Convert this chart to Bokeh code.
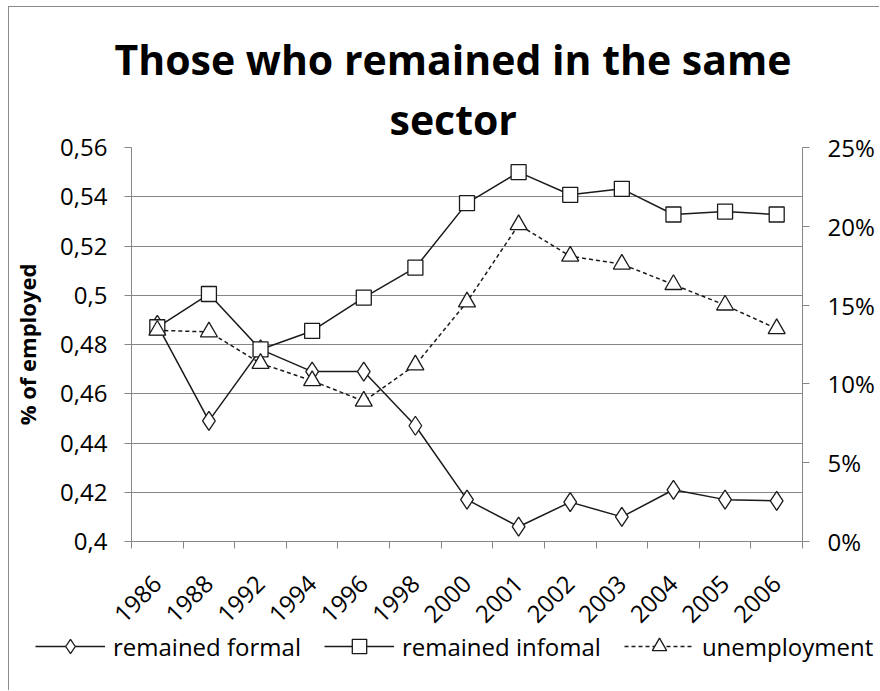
from math import pi
from bokeh.plotting import figure
from bokeh.models import (Range1d, LinearAxis, FixedTicker, Legend,
                          LegendItem, Title, Grid, LinearScale)
from bokeh.embed import file_html
from bokeh.resources import INLINE

# ---------------- data ----------------
years = ["1986", "1988", "1992", "1994", "1996", "1998", "2000",
         "2001", "2002", "2003", "2004", "2005", "2006"]
remained_formal = [0.488, 0.449, 0.478, 0.469, 0.469, 0.447, 0.417,
                   0.406, 0.416, 0.410, 0.421, 0.417, 0.4165]
remained_informal = [0.487, 0.5005, 0.478, 0.4855, 0.499, 0.5112, 0.5374,
                     0.550, 0.5408, 0.5432, 0.5328, 0.534, 0.5328]
unemployment = [0.134, 0.133, 0.113, 0.102, 0.089, 0.112, 0.152,
                0.201, 0.181, 0.176, 0.163, 0.150, 0.135]

left_ticks = [0.40, 0.42, 0.44, 0.46, 0.48, 0.50, 0.52, 0.54, 0.56]
left_tick_labels = ["0,4", "0,42", "0,44", "0,46", "0,48", "0,5", "0,52", "0,54", "0,56"]
right_ticks = [0.0, 0.05, 0.10, 0.15, 0.20, 0.25]
right_tick_labels = ["0%", "5%", "10%", "15%", "20%", "25%"]
series_names = ["remained formal", "remained infomal", "unemployment"]
title_lines = ["Those who remained in the same", "sector"]
y_label = "% of employed"

# category slots (one per year) on a linear scale
slots = list(range(len(years)))
slot_edges = [i - 0.5 for i in range(len(years) + 1)]

# ---------------- style ----------------
FONT = "Open Sans"
GRAY = "#868686"
INK = "#1a1a1a"

p = figure(x_range=Range1d(slot_edges[0], slot_edges[-1]),
           y_range=Range1d(left_ticks[0], left_ticks[-1]),
           width=871, height=627, output_backend="svg", toolbar_location=None,
           x_axis_location=None, y_axis_location=None,
           min_border_left=121, min_border_right=78,
           min_border_top=140, min_border_bottom=93)
p.outline_line_color = None
p.background_fill_color = "white"
p.border_fill_color = "white"
p.styles = {"margin-left": "8px", "margin-top": "6px",
            "border-left": "1px solid #8a8a8a", "border-top": "1px solid #8a8a8a"}
for g in p.grid:
    g.visible = False

p.extra_y_ranges = {"pct": Range1d(right_ticks[0], right_ticks[-1])}
p.extra_y_scales = {"pct": LinearScale()}

# horizontal grid
p.add_layout(Grid(dimension=1, ticker=FixedTicker(ticks=left_ticks),
                  grid_line_color=GRAY, grid_line_width=1.2))

# left axis
ax_l = LinearAxis(ticker=FixedTicker(ticks=left_ticks),
                  major_label_overrides=dict(zip(left_ticks, left_tick_labels)),
                  axis_label=y_label, axis_label_text_font=FONT,
                  axis_label_text_font_style="bold", axis_label_text_font_size="22px",
                  axis_label_text_color="black", axis_label_standoff=15,
                  major_label_text_font=FONT, major_label_text_font_size="24px",
                  major_label_text_color="black", major_label_standoff=17,
                  axis_line_color=GRAY, major_tick_line_color=GRAY,
                  major_tick_out=7, major_tick_in=0, minor_tick_line_color=None)
p.add_layout(ax_l, "left")

# right axis
ax_r = LinearAxis(y_range_name="pct", ticker=FixedTicker(ticks=right_ticks),
                  major_label_overrides=dict(zip(right_ticks, right_tick_labels)),
                  major_label_text_font=FONT, major_label_text_font_size="24px",
                  major_label_text_color="black", major_label_standoff=18,
                  axis_line_color=GRAY, major_tick_line_color=GRAY,
                  major_tick_out=7, major_tick_in=0, minor_tick_line_color=None)
p.add_layout(ax_r, "right")

# bottom axis: labels at category centres, ticks at category boundaries
ax_b = LinearAxis(ticker=FixedTicker(ticks=slots, minor_ticks=slot_edges),
                  major_label_overrides=dict(zip(slots, years)),
                  major_tick_line_color=None, major_tick_in=0,
                  minor_tick_line_color=GRAY, minor_tick_out=7, minor_tick_in=0,
                  axis_line_color=GRAY,
                  major_label_orientation=pi / 4, major_label_standoff=31,
                  major_label_text_font=FONT, major_label_text_font_size="24px",
                  major_label_text_color="black")
p.add_layout(ax_b, "below")

# series
p.line(slots, remained_formal, line_color=INK, line_width=1.5)
p.scatter(slots, remained_formal, marker="diamond", size=19,
          fill_color="white", line_color=INK, line_width=1.3)
p.line(slots, remained_informal, line_color=INK, line_width=1.5)
p.scatter(slots, remained_informal, marker="square", size=15,
          fill_color="white", line_color=INK, line_width=1.3)
p.line(slots, unemployment, y_range_name="pct", line_color=INK,
       line_width=1.5, line_dash="4 3")
p.scatter(slots, unemployment, y_range_name="pct", marker="triangle", size=17,
          fill_color="white", line_color=INK, line_width=1.3)

# title (two lines, second added first so it sits nearest the plot)
p.add_layout(Title(text=title_lines[1], align="left", text_font=FONT,
                   text_font_style="bold", text_font_size="41px",
                   text_color="black", offset=258, standoff=1), "above")
p.add_layout(Title(text=title_lines[0], align="left", text_font=FONT,
                   text_font_style="bold", text_font_size="41px",
                   text_color="black", offset=-17, standoff=4), "above")

# ---------------- legend strip (separate root below the chart) ----------------
# the same series are drawn here outside the visible range, only to feed the legend
q = figure(x_range=Range1d(slot_edges[0], slot_edges[-1]), y_range=Range1d(10, 11),
           width=871, height=65, output_backend="svg", toolbar_location=None,
           x_axis_location=None, y_axis_location=None,
           min_border=0, min_border_left=0, min_border_right=0,
           min_border_top=0, min_border_bottom=0)
q.outline_line_color = None
q.background_fill_color = "white"
q.border_fill_color = "white"
q.styles = {"margin-left": "8px", "margin-top": "-8px",
            "border-left": "1px solid #8a8a8a"}
for g in q.grid:
    g.visible = False

k1l = q.line(slots, remained_formal, line_color=INK, line_width=1.5)
k1s = q.scatter(slots, remained_formal, marker="diamond", fill_color="white",
                line_color=INK, line_width=1.3)
k2l = q.line(slots, remained_informal, line_color=INK, line_width=1.5)
k2s = q.scatter(slots, remained_informal, marker="square", fill_color="white",
                line_color=INK, line_width=1.3)
k3l = q.line(slots, unemployment, line_color=INK, line_width=1.5, line_dash="4 3")
k3s = q.scatter(slots, unemployment, marker="triangle", fill_color="white",
                line_color=INK, line_width=1.3)

legend = Legend(items=[LegendItem(label=series_names[0], renderers=[k1l, k1s]),
                       LegendItem(label=series_names[1], renderers=[k2l, k2s]),
                       LegendItem(label=series_names[2], renderers=[k3l, k3s])],
                orientation="horizontal", location=(26, 26),
                glyph_width=70, glyph_height=36, label_standoff=8, spacing=23,
                label_text_font=FONT, label_text_font_size="24px",
                label_text_color="black", border_line_color=None,
                background_fill_alpha=0, padding=0, margin=0)
q.add_layout(legend, "center")

open("out.html", "w").write(file_html([p, q], INLINE))
